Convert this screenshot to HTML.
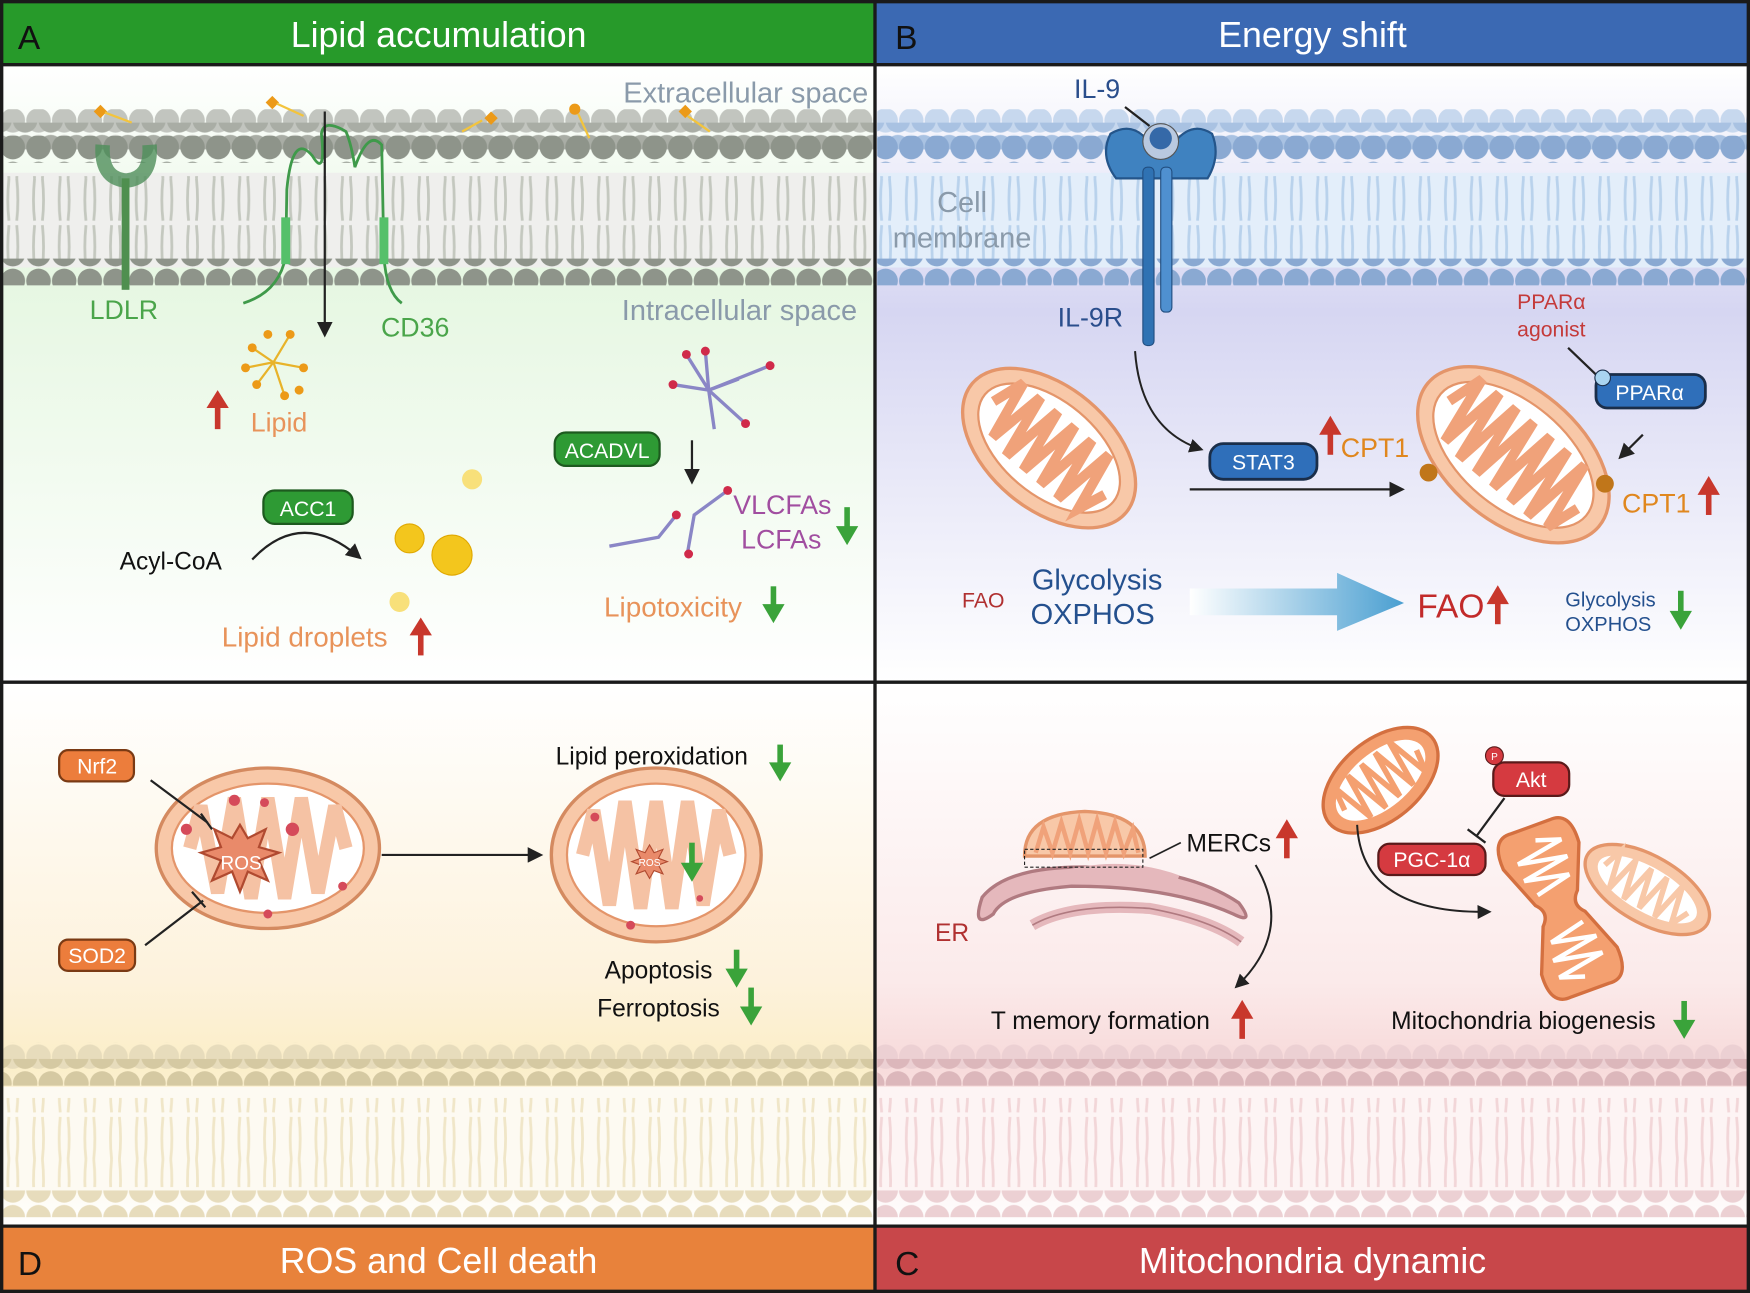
<!DOCTYPE html>
<html><head><meta charset="utf-8"><style>
html,body{margin:0;padding:0;background:#fff}
svg{display:block}
text{font-family:"Liberation Sans",Arial,sans-serif}
</style></head><body>
<svg width="1750" height="1293" viewBox="0 0 1568 1160" preserveAspectRatio="none" xmlns="http://www.w3.org/2000/svg">
<defs>
<linearGradient id="gA" x1="0" y1="0" x2="0" y2="1"><stop offset="0" stop-color="#fff"/><stop offset="0.35" stop-color="#e6f7e2"/><stop offset="1" stop-color="#fff"/></linearGradient>
<linearGradient id="gB" x1="0" y1="0" x2="0" y2="1"><stop offset="0" stop-color="#fff"/><stop offset="0.4" stop-color="#d6d6f2"/><stop offset="1" stop-color="#fff"/></linearGradient>
<linearGradient id="gD" x1="0" y1="0" x2="0" y2="1"><stop offset="0" stop-color="#fff"/><stop offset="0.55" stop-color="#fdf2dc"/><stop offset="0.7" stop-color="#fbeec8"/><stop offset="1" stop-color="#fff"/></linearGradient>
<linearGradient id="gC" x1="0" y1="0" x2="0" y2="1"><stop offset="0" stop-color="#fff"/><stop offset="0.55" stop-color="#fbeaea"/><stop offset="0.7" stop-color="#f7dada"/><stop offset="1" stop-color="#fff"/></linearGradient>
<linearGradient id="arr" x1="0" x2="1"><stop offset="0" stop-color="#fff"/><stop offset="1" stop-color="#4a9fd1"/></linearGradient>
<pattern id="tailsG" width="23" height="80" patternUnits="userSpaceOnUse"><path d="M8 0 q-2 20 0 38 M15 0 q2 20 0 38 M8 42 q-2 20 0 38 M15 42 q2 20 0 38" stroke="#c4c8bf" stroke-width="2.5" fill="none"/></pattern>
<pattern id="tailsB" width="23" height="80" patternUnits="userSpaceOnUse"><path d="M8 0 q-2 20 0 38 M15 0 q2 20 0 38 M8 42 q-2 20 0 38 M15 42 q2 20 0 38" stroke="#b9d2ec" stroke-width="2.5" fill="none"/></pattern>
<pattern id="tailsY" width="23" height="80" patternUnits="userSpaceOnUse"><path d="M8 0 q-2 20 0 38 M15 0 q2 20 0 38 M8 42 q-2 20 0 38 M15 42 q2 20 0 38" stroke="#f0e6c8" stroke-width="2.5" fill="none"/></pattern>
<pattern id="tailsP" width="23" height="80" patternUnits="userSpaceOnUse"><path d="M8 0 q-2 20 0 38 M15 0 q2 20 0 38 M8 42 q-2 20 0 38 M15 42 q2 20 0 38" stroke="#f2d6d8" stroke-width="2.5" fill="none"/></pattern>
<pattern id="hG1" width="23" height="24" patternUnits="userSpaceOnUse"><circle cx="11.5" cy="12" r="11" fill="#c2c5bf"/></pattern>
<pattern id="hG2" x="11" width="23" height="24" patternUnits="userSpaceOnUse"><circle cx="11.5" cy="12" r="11" fill="#a9ada5"/></pattern>
<pattern id="hG3" width="23" height="24" patternUnits="userSpaceOnUse"><circle cx="11.5" cy="12" r="11" fill="#8e948a"/></pattern>
<pattern id="hB1" width="23" height="24" patternUnits="userSpaceOnUse"><circle cx="11.5" cy="12" r="11" fill="#c7d8ee"/></pattern>
<pattern id="hB2" x="11" width="23" height="24" patternUnits="userSpaceOnUse"><circle cx="11.5" cy="12" r="11" fill="#a9c2e2"/></pattern>
<pattern id="hB3" width="23" height="24" patternUnits="userSpaceOnUse"><circle cx="11.5" cy="12" r="11" fill="#8aa9d2"/></pattern>
<pattern id="hY1" width="23" height="24" patternUnits="userSpaceOnUse"><circle cx="11.5" cy="12" r="11" fill="#e7dcbc"/></pattern>
<pattern id="hY2" x="11" width="23" height="24" patternUnits="userSpaceOnUse"><circle cx="11.5" cy="12" r="11" fill="#d5c9a2"/></pattern>
<pattern id="hP1" width="23" height="24" patternUnits="userSpaceOnUse"><circle cx="11.5" cy="12" r="11" fill="#ecd0d3"/></pattern>
<pattern id="hP2" x="11" width="23" height="24" patternUnits="userSpaceOnUse"><circle cx="11.5" cy="12" r="11" fill="#dcb7bb"/></pattern>
<marker id="ah" viewBox="0 0 10 10" refX="8" refY="5" markerWidth="7" markerHeight="7" orient="auto"><path d="M0 0L10 5L0 10z" fill="#222"/></marker>
</defs>

<!-- Backgrounds -->
<rect x="0" y="58" width="784" height="554" fill="url(#gA)"/>
<rect x="784" y="58" width="784" height="554" fill="url(#gB)"/>
<rect x="0" y="612" width="784" height="488" fill="url(#gD)"/>
<rect x="784" y="612" width="784" height="488" fill="url(#gC)"/>

<!-- Membrane A -->
<rect x="3" y="155" width="781" height="85" fill="#efefed"/>
<rect x="3" y="158" width="781" height="80" fill="url(#tailsG)"/>
<rect x="3" y="98" width="781" height="24" fill="url(#hG1)"/>
<rect x="3" y="110" width="781" height="24" fill="url(#hG2)"/>
<rect x="3" y="122" width="781" height="24" fill="url(#hG3)"/>
<rect x="3" y="232" width="781" height="24" fill="url(#hG3)"/>
<!-- Membrane B -->
<rect x="786" y="155" width="780" height="85" fill="#e3eefa"/>
<rect x="786" y="158" width="780" height="80" fill="url(#tailsB)"/>
<rect x="786" y="98" width="780" height="24" fill="url(#hB1)"/>
<rect x="786" y="110" width="780" height="24" fill="url(#hB2)"/>
<rect x="786" y="122" width="780" height="24" fill="url(#hB3)"/>
<rect x="786" y="232" width="780" height="24" fill="url(#hB3)"/>
<!-- Membrane D -->
<rect x="3" y="975" width="781" height="95" fill="#fdfaf2"/>
<rect x="3" y="985" width="781" height="80" fill="url(#tailsY)"/>
<rect x="3" y="935" width="781" height="24" fill="url(#hY1)"/>
<rect x="3" y="950" width="781" height="24" fill="url(#hY2)"/>
<rect x="3" y="1068" width="781" height="24" fill="url(#hY1)"/>
<!-- Membrane C -->
<rect x="786" y="975" width="780" height="95" fill="#fdf4f4"/>
<rect x="786" y="985" width="780" height="80" fill="url(#tailsP)"/>
<rect x="786" y="935" width="780" height="24" fill="url(#hP1)"/>
<rect x="786" y="950" width="780" height="24" fill="url(#hP2)"/>
<rect x="786" y="1068" width="780" height="24" fill="url(#hP1)"/>

<!-- Headers -->
<rect x="0" y="0" width="784" height="58" fill="#279a2a"/>
<rect x="784" y="0" width="784" height="58" fill="#3b69b3"/>
<rect x="0" y="1100" width="784" height="60" fill="#e8823b"/>
<rect x="784" y="1100" width="784" height="60" fill="#c8474a"/>
<text x="16" y="44" font-size="30" fill="#111">A</text>
<text x="393" y="42" font-size="32" fill="#fff" text-anchor="middle">Lipid accumulation</text>
<text x="802" y="44" font-size="30" fill="#111">B</text>
<text x="1176" y="42" font-size="32" fill="#fff" text-anchor="middle">Energy shift</text>
<text x="16" y="1144" font-size="30" fill="#111">D</text>
<text x="393" y="1142" font-size="32" fill="#fff" text-anchor="middle">ROS and Cell death</text>
<text x="802" y="1144" font-size="30" fill="#111">C</text>
<text x="1176" y="1142" font-size="32" fill="#fff" text-anchor="middle">Mitochondria dynamic</text>

<!-- Borders -->
<g fill="none" stroke="#1a1a1a" stroke-width="3">
<rect x="1.5" y="1.5" width="1565" height="1157"/>
<line x1="784" y1="0" x2="784" y2="1160"/>
<line x1="0" y1="58" x2="1568" y2="58"/>
<line x1="0" y1="612" x2="1568" y2="612"/>
<line x1="0" y1="1100" x2="1568" y2="1100"/>
</g>

<!-- Panel A content -->
<text x="778" y="92" font-size="26" fill="#8a9aaa" text-anchor="end">Extracellular space</text>
<text x="768" y="287" font-size="26" fill="#8a9aaa" text-anchor="end">Intracellular space</text>
<!-- LDLR -->
<path d="M92 130 Q90 160 113 162 Q136 160 134 130" fill="none" stroke="#4f8f5a" stroke-width="13" opacity="0.8"/>
<rect x="109" y="160" width="7" height="100" fill="#4f8f4f"/>
<text x="111" y="286" font-size="24" fill="#4aa54a" text-anchor="middle">LDLR</text>
<!-- CD36 -->
<path d="M218 272 Q250 262 256 230 L257 170 Q262 118 280 140 Q292 160 288 120 Q290 106 310 118 Q315 130 318 150 Q330 116 342 130 L344 230 Q346 262 360 272" fill="none" stroke="#3f9a4a" stroke-width="2.5"/>
<rect x="252" y="195" width="8" height="42" fill="#55c06a"/>
<rect x="340" y="195" width="8" height="42" fill="#55c06a"/>
<text x="372" y="302" font-size="24" fill="#4aa54a" text-anchor="middle">CD36</text>
<line x1="291" y1="100" x2="291" y2="300" stroke="#222" stroke-width="2" marker-end="url(#ah)"/>
<!-- ligands -->
<g fill="#ec9a18"><polygon points="84,100 90,94 96,100 90,106"/><polygon points="238,92 244,86 250,92 244,98"/><polygon points="434,106 440,100 446,106 440,112"/><circle cx="515" cy="98" r="5"/><polygon points="608,100 614,94 620,100 614,106"/></g>
<g stroke="#f3c43c" stroke-width="2"><line x1="94" y1="101" x2="118" y2="110"/><line x1="248" y1="93" x2="272" y2="104"/><line x1="432" y1="108" x2="414" y2="118"/><line x1="518" y1="102" x2="528" y2="124"/><line x1="616" y1="104" x2="636" y2="118"/></g>
<!-- lipid cluster -->
<g stroke="#e8b32a" stroke-width="2"><line x1="245" y1="325" x2="226" y2="312"/><line x1="245" y1="325" x2="260" y2="300"/><line x1="245" y1="325" x2="272" y2="330"/><line x1="245" y1="325" x2="230" y2="345"/><line x1="245" y1="325" x2="255" y2="355"/><line x1="245" y1="325" x2="220" y2="330"/></g>
<g fill="#ec9a18"><circle cx="226" cy="312" r="4"/><circle cx="260" cy="300" r="4"/><circle cx="272" cy="330" r="4"/><circle cx="230" cy="345" r="4"/><circle cx="255" cy="355" r="4"/><circle cx="220" cy="330" r="4"/><circle cx="240" cy="300" r="4"/><circle cx="268" cy="350" r="4"/></g>
<path d="M195 385 V365" stroke="#c8372c" stroke-width="5"/><path d="M185 366 L195 350 L205 366z" fill="#c8372c"/>
<text x="250" y="387" font-size="24" fill="#e8935a" text-anchor="middle">Lipid</text>
<!-- ACC1 -->
<rect x="236" y="440" width="80" height="30" rx="10" fill="#2e9a34" stroke="#1d5a1f" stroke-width="2"/>
<text x="276" y="463" font-size="19" fill="#fff" text-anchor="middle">ACC1</text>
<text x="153" y="511" font-size="22" fill="#111" text-anchor="middle">Acyl-CoA</text>
<path d="M226 502 Q270 455 322 500" fill="none" stroke="#222" stroke-width="2" marker-end="url(#ah)"/>
<g fill="#f3c61d" stroke="#e0a800"><circle cx="367" cy="483" r="13"/><circle cx="405" cy="498" r="18"/></g>
<circle cx="423" cy="430" r="9" fill="#f8e07a"/><circle cx="358" cy="540" r="9" fill="#f8e07a"/>
<text x="273" y="580" font-size="25" fill="#e8935a" text-anchor="middle">Lipid droplets</text>
<path d="M377 588 V568" stroke="#c8372c" stroke-width="5"/><path d="M367 570 L377 554 L387 570z" fill="#c8372c"/>
<!-- ACADVL -->
<rect x="497" y="388" width="94" height="30" rx="10" fill="#2e9a34" stroke="#1d5a1f" stroke-width="2"/>
<text x="544" y="411" font-size="19" fill="#fff" text-anchor="middle">ACADVL</text>
<g stroke="#8a86c6" stroke-width="3"><line x1="635" y1="350" x2="615" y2="318"/><line x1="635" y1="350" x2="603" y2="345"/><line x1="635" y1="350" x2="690" y2="328"/><line x1="635" y1="350" x2="668" y2="380"/><line x1="635" y1="350" x2="632" y2="315"/><line x1="635" y1="350" x2="640" y2="385"/><line x1="635" y1="350" x2="662" y2="340"/></g>
<g fill="#d02a4a"><circle cx="615" cy="318" r="4"/><circle cx="603" cy="345" r="4"/><circle cx="690" cy="328" r="4"/><circle cx="668" cy="380" r="4"/><circle cx="632" cy="315" r="4"/></g>
<line x1="620" y1="395" x2="620" y2="432" stroke="#222" stroke-width="2" marker-end="url(#ah)"/>
<path d="M546 490 L590 482 L606 462 M616 496 L622 462 L652 440" fill="none" stroke="#8a86c6" stroke-width="3"/>
<g fill="#d02a4a"><circle cx="606" cy="462" r="4"/><circle cx="617" cy="497" r="4"/><circle cx="652" cy="440" r="4"/></g>
<text x="701" y="461" font-size="24" fill="#a14ea0" text-anchor="middle">VLCFAs</text>
<text x="700" y="492" font-size="24" fill="#a14ea0" text-anchor="middle">LCFAs</text>
<path d="M759 455 V475" stroke="#3aa33a" stroke-width="5"/><path d="M749 472 L759 489 L769 472z" fill="#3aa33a"/>
<text x="603" y="553" font-size="25" fill="#e8935a" text-anchor="middle">Lipotoxicity</text>
<path d="M693 526 V546" stroke="#3aa33a" stroke-width="5"/><path d="M683 542 L693 559 L703 542z" fill="#3aa33a"/>

<!-- Panel B -->
<text x="983" y="88" font-size="24" fill="#2a4e8c" text-anchor="middle">IL-9</text>
<line x1="1008" y1="96" x2="1030" y2="113" stroke="#222" stroke-width="2"/>
<path d="M1000 160 Q985 140 995 120 Q1015 108 1030 128 L1034 140 L1048 140 L1052 128 Q1068 108 1086 120 Q1094 140 1082 160 Z" fill="#3f82c0" stroke="#24558a" stroke-width="2"/>
<rect x="1024" y="150" width="10" height="160" rx="4" fill="#2f72b3" stroke="#214e80"/>
<rect x="1040" y="150" width="10" height="130" rx="4" fill="#4f90d0" stroke="#214e80"/>
<circle cx="1040" cy="127" r="16" fill="#b9c9e0" stroke="#555"/><circle cx="1040" cy="124" r="10" fill="#3569a8"/>
<text x="862" y="190" font-size="26" fill="#8a9aaa" text-anchor="middle">Cell</text>
<text x="862" y="222" font-size="26" fill="#8a9aaa" text-anchor="middle">membrane</text>
<text x="977" y="293" font-size="24" fill="#2a4e8c" text-anchor="middle">IL-9R</text>
<text x="1390" y="277" font-size="19" fill="#c43a3a" text-anchor="middle">PPARα</text>
<text x="1390" y="302" font-size="19" fill="#c43a3a" text-anchor="middle">agonist</text>
<line x1="1405" y1="312" x2="1430" y2="336" stroke="#222" stroke-width="2"/>
<rect x="1430" y="336" width="98" height="30" rx="10" fill="#2f6fba" stroke="#1a2e4a" stroke-width="2.5"/>
<circle cx="1436" cy="339" r="7" fill="#a9d4f0" stroke="#1a2e4a"/>
<text x="1478" y="359" font-size="19" fill="#fff" text-anchor="middle">PPARα</text>
<line x1="1472" y1="390" x2="1452" y2="410" stroke="#222" stroke-width="2" marker-end="url(#ah)"/>
<path d="M1017 315 Q1022 385 1076 403" fill="none" stroke="#222" stroke-width="1.8" marker-end="url(#ah)"/>
<rect x="1084" y="398" width="96" height="32" rx="12" fill="#2f6fba" stroke="#1a2e4a" stroke-width="2.5"/>
<text x="1132" y="421" font-size="19" fill="#fff" text-anchor="middle">STAT3</text>
<path d="M1192 408 V388" stroke="#c8372c" stroke-width="5"/><path d="M1182 390 L1192 373 L1202 390z" fill="#c8372c"/>
<text x="1232" y="410" font-size="24" fill="#e0871e" text-anchor="middle">CPT1</text>
<line x1="1066" y1="439" x2="1256" y2="439" stroke="#222" stroke-width="2" marker-end="url(#ah)"/>
<!-- mito B left -->
<g transform="translate(940,402) rotate(40)">
<ellipse rx="90" ry="55" fill="#f8c8a8" stroke="#e4956a" stroke-width="3"/>
<ellipse rx="75" ry="42" fill="#fff" stroke="#e4956a" stroke-width="2"/>
<path d="M-65 0 L-55 -30 L-45 25 L-35 -30 L-25 30 L-15 -30 L-5 30 L5 -30 L15 30 L25 -30 L35 30 L45 -30 L55 25 L65 0" fill="none" stroke="#f0a27a" stroke-width="9"/>
</g>
<g transform="translate(1356,408) rotate(40)">
<ellipse rx="100" ry="60" fill="#f8c8a8" stroke="#e4956a" stroke-width="3"/>
<ellipse rx="85" ry="47" fill="#fff" stroke="#e4956a" stroke-width="2"/>
<path d="M-75 0 L-65 -34 L-55 30 L-45 -34 L-35 34 L-25 -34 L-15 34 L-5 -34 L5 34 L15 -34 L25 34 L35 -34 L45 34 L55 -34 L65 30 L75 0" fill="none" stroke="#f0a27a" stroke-width="9"/>
</g>
<circle cx="1280" cy="424" r="8" fill="#c0761a"/><circle cx="1438" cy="434" r="8" fill="#c0761a"/>
<text x="1484" y="460" font-size="24" fill="#e0871e" text-anchor="middle">CPT1</text>
<path d="M1531 462 V442" stroke="#c8372c" stroke-width="5"/><path d="M1521 444 L1531 427 L1541 444z" fill="#c8372c"/>
<text x="881" y="545" font-size="19" fill="#b03030" text-anchor="middle">FAO</text>
<text x="983" y="529" font-size="26" fill="#24508e" text-anchor="middle">Glycolysis</text>
<text x="979" y="560" font-size="26" fill="#24508e" text-anchor="middle">OXPHOS</text>
<path d="M1066 528 H1198 V514 L1258 541 L1198 566 V552 H1066Z" fill="url(#arr)"/>
<text x="1300" y="554" font-size="30" fill="#c22a2a" text-anchor="middle">FAO</text>
<path d="M1342 560 V540" stroke="#c8372c" stroke-width="5"/><path d="M1332 542 L1342 525 L1352 542z" fill="#c8372c"/>
<text x="1443" y="544" font-size="18" fill="#24508e" text-anchor="middle">Glycolysis</text>
<text x="1441" y="566" font-size="18" fill="#24508e" text-anchor="middle">OXPHOS</text>
<path d="M1506 530 V550" stroke="#3aa33a" stroke-width="5"/><path d="M1496 548 L1506 565 L1516 548z" fill="#3aa33a"/>

<!-- Panel D -->
<rect x="53" y="673" width="67" height="28" rx="8" fill="#ec7d3c" stroke="#7a3a14" stroke-width="2"/>
<text x="87" y="694" font-size="19" fill="#fff" text-anchor="middle">Nrf2</text>
<rect x="53" y="843" width="68" height="28" rx="8" fill="#ec7d3c" stroke="#7a3a14" stroke-width="2"/>
<text x="87" y="864" font-size="19" fill="#fff" text-anchor="middle">SOD2</text>
<g transform="translate(240,761)">
<ellipse rx="100" ry="72" fill="#f8c8a8" stroke="#d48a60" stroke-width="3"/>
<ellipse rx="86" ry="58" fill="#fff" stroke="#e4956a" stroke-width="2"/>
<path d="M-70 0 L-60 -38 L-45 40 L-30 -45 L-15 45 L0 -45 L15 45 L30 -45 L45 40 L60 -38 L70 0" fill="none" stroke="#f5c2a4" stroke-width="12"/>
</g>
<polygon points="215,740 222,752 238,744 232,760 250,765 232,772 240,790 222,782 215,800 208,782 190,790 198,772 180,765 198,760 192,744 208,752" fill="#e98a6a" stroke="#b04a30" stroke-width="2"/>
<text x="216" y="780" font-size="17" fill="#fff" text-anchor="middle">ROS</text>
<g fill="#d54a5a"><circle cx="167" cy="744" r="5"/><circle cx="210" cy="718" r="5"/><circle cx="237" cy="720" r="4"/><circle cx="262" cy="744" r="6"/><circle cx="240" cy="820" r="4"/><circle cx="307" cy="795" r="4"/></g>
<line x1="135" y1="700" x2="186" y2="738" stroke="#222" stroke-width="2"/><line x1="180" y1="730" x2="190" y2="744" stroke="#222" stroke-width="2"/>
<line x1="130" y1="848" x2="182" y2="808" stroke="#222" stroke-width="2"/><line x1="172" y1="800" x2="184" y2="814" stroke="#222" stroke-width="2"/>
<line x1="342" y1="767" x2="484" y2="767" stroke="#222" stroke-width="2" marker-end="url(#ah)"/>
<g transform="translate(588,767)">
<ellipse rx="94" ry="78" fill="#f8c8a8" stroke="#d48a60" stroke-width="3"/>
<ellipse rx="80" ry="64" fill="#fff" stroke="#e4956a" stroke-width="2"/>
<path d="M-66 0 L-56 -40 L-42 45 L-28 -48 L-14 48 L0 -48 L14 48 L28 -48 L42 45 L56 -40 L66 0" fill="none" stroke="#f5c2a4" stroke-width="12"/>
</g>
<polygon points="582,758 586,765 594,762 590,770 598,773 590,776 594,784 586,781 582,788 578,781 570,784 574,776 566,773 574,770 570,762 578,765" fill="#e98a6a" stroke="#b04a30"/>
<text x="582" y="777" font-size="9" fill="#fff" text-anchor="middle">ROS</text>
<path d="M620 756 V776" stroke="#3aa33a" stroke-width="5"/><path d="M610 774 L620 791 L630 774z" fill="#3aa33a"/>
<g fill="#d54a5a"><circle cx="533" cy="733" r="4"/><circle cx="565" cy="830" r="4"/><circle cx="627" cy="806" r="3"/></g>
<text x="584" y="686" font-size="22" fill="#111" text-anchor="middle">Lipid peroxidation</text>
<path d="M699 668 V688" stroke="#3aa33a" stroke-width="5"/><path d="M689 684 L699 701 L709 684z" fill="#3aa33a"/>
<text x="590" y="878" font-size="22" fill="#111" text-anchor="middle">Apoptosis</text>
<path d="M660 852 V872" stroke="#3aa33a" stroke-width="5"/><path d="M650 869 L660 886 L670 869z" fill="#3aa33a"/>
<text x="590" y="912" font-size="22" fill="#111" text-anchor="middle">Ferroptosis</text>
<path d="M673 886 V906" stroke="#3aa33a" stroke-width="5"/><path d="M663 903 L673 920 L683 903z" fill="#3aa33a"/>

<!-- Panel C -->
<path d="M880 805 Q900 780 960 778 Q1060 776 1110 810 Q1125 830 1105 820 Q1050 795 960 795 Q900 800 890 820 Q870 835 880 805Z" fill="#e5b8bc" stroke="#b07a80" stroke-width="3"/>
<path d="M925 830 Q960 810 1030 815 Q1085 825 1112 845" fill="none" stroke="#e5b8bc" stroke-width="10"/>
<path d="M925 830 Q960 810 1030 815 Q1085 825 1112 845" fill="none" stroke="#b07a80" stroke-width="1.5"/>
<path d="M940 790 Q1000 770 1055 790" fill="none" stroke="#e5b8bc" stroke-width="10"/>
<text x="853" y="844" font-size="22" fill="#b03030" text-anchor="middle">ER</text>
<path d="M918 768 Q918 730 972 728 Q1026 730 1026 768Z" fill="#f8c8a8" stroke="#e4956a" stroke-width="3"/>
<path d="M928 765 L935 742 L943 765 L951 738 L959 765 L967 736 L975 765 L983 736 L991 765 L999 738 L1007 765 L1015 744 L1020 765" fill="none" stroke="#f0a27a" stroke-width="4"/>
<rect x="918" y="762" width="106" height="16" fill="none" stroke="#222" stroke-dasharray="3,2"/>
<line x1="1030" y1="770" x2="1058" y2="756" stroke="#222" stroke-width="1.5"/>
<text x="1101" y="764" font-size="22" fill="#111" text-anchor="middle">MERCs</text>
<path d="M1153 770 V750" stroke="#c8372c" stroke-width="5"/><path d="M1143 752 L1153 735 L1163 752z" fill="#c8372c"/>
<path d="M1125 776 Q1160 835 1108 885" fill="none" stroke="#222" stroke-width="1.8" marker-end="url(#ah)"/>
<text x="986" y="923" font-size="22" fill="#111" text-anchor="middle">T memory formation</text>
<path d="M1113 932 V912" stroke="#c8372c" stroke-width="5"/><path d="M1103 914 L1113 897 L1123 914z" fill="#c8372c"/>
<g transform="translate(1237,700) rotate(-40)">
<ellipse rx="60" ry="36" fill="#f4a070" stroke="#d47040" stroke-width="3"/>
<ellipse rx="48" ry="25" fill="#fff"/>
<path d="M-42 0 L-36 -22 L-28 20 L-20 -22 L-12 22 L-4 -22 L4 22 L12 -22 L20 22 L28 -22 L36 20 L42 0" fill="none" stroke="#f4a070" stroke-width="5"/>
</g>
<g transform="translate(1398,815) rotate(70)">
<path d="M-78 -18 Q-80 -38 -50 -36 L-10 -20 Q0 -10 10 -20 L50 -36 Q80 -38 78 -18 L78 18 Q80 38 50 36 L10 20 Q0 10 -10 20 L-50 36 Q-80 38 -78 18Z" fill="#f4a070" stroke="#d47040" stroke-width="3"/>
<path d="M-65 0 L-58 -22 L-50 22 L-42 -22 L-34 22 L-26 -18 L-18 15 M18 -15 L26 18 L34 -22 L42 22 L50 -22 L58 22 L65 0" fill="none" stroke="#fff" stroke-width="4"/>
</g>
<g transform="translate(1476,798) rotate(30)">
<ellipse rx="62" ry="30" fill="#f8c8a8" stroke="#e4956a" stroke-width="3"/>
<ellipse rx="50" ry="20" fill="#fff"/>
<path d="M-44 0 L-38 -18 L-30 16 L-22 -18 L-14 18 L-6 -18 L2 18 L10 -18 L18 18 L26 -18 L34 16 L42 0" fill="none" stroke="#f8c8a8" stroke-width="5"/>
</g>
<rect x="1338" y="684" width="68" height="30" rx="10" fill="#d53a40" stroke="#5a1a1a" stroke-width="2"/>
<circle cx="1339" cy="678" r="8" fill="#d53a40" stroke="#5a1a1a"/>
<text x="1339" y="682" font-size="9" fill="#fff" text-anchor="middle">P</text>
<text x="1372" y="706" font-size="19" fill="#fff" text-anchor="middle">Akt</text>
<line x1="1348" y1="716" x2="1323" y2="750" stroke="#222" stroke-width="2"/><line x1="1315" y1="744" x2="1331" y2="756" stroke="#222" stroke-width="2"/>
<rect x="1235" y="757" width="96" height="28" rx="10" fill="#d53a40" stroke="#5a1a1a" stroke-width="2"/>
<text x="1283" y="778" font-size="19" fill="#fff" text-anchor="middle">PGC-1α</text>
<path d="M1216 740 Q1220 820 1334 818" fill="none" stroke="#222" stroke-width="1.8" marker-end="url(#ah)"/>
<text x="1365" y="923" font-size="22" fill="#111" text-anchor="middle">Mitochondria biogenesis</text>
<path d="M1509 898 V918" stroke="#3aa33a" stroke-width="5"/><path d="M1499 915 L1509 932 L1519 915z" fill="#3aa33a"/>
</svg>
</body></html>
